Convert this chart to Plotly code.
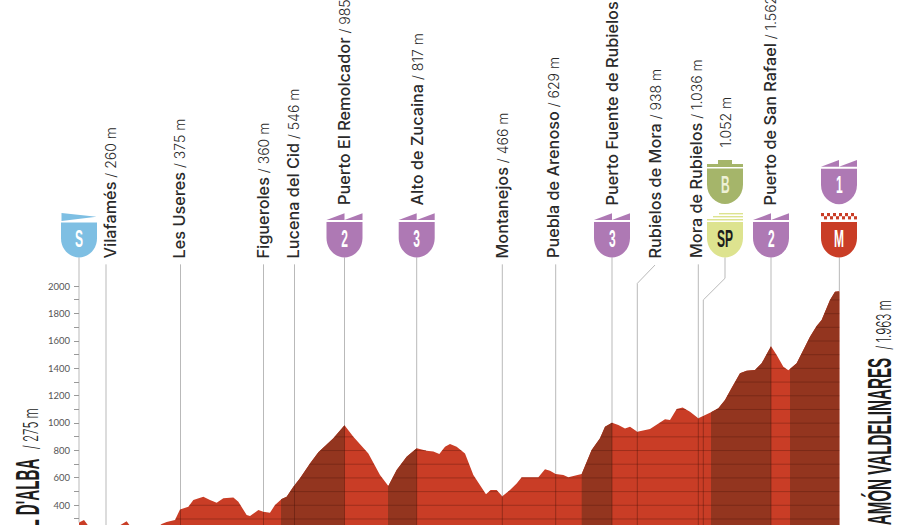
import numpy as np
import plotly.graph_objects as go

# ---------- data ----------
distance_km = [0, 0.53, 1.0, 1.87, 4.2, 6.87, 8.87, 9.53, 10.2, 12.87, 15.53, 16.53, 17.53, 19.2, 20.2, 21.87, 22.87,
               24.87, 26.2, 27.53, 28.87, 30.87, 31.87, 33.53, 34.2, 35.87, 36.87, 38.2, 39.2, 40.53, 41.53, 42.87,
               44.2, 46.2, 47.87, 49.53, 50.87, 53.1, 54.87, 57.87, 60.2, 61.87, 63.53, 65.53, 67.54, 69.53, 70.87,
               72.07, 73.2, 74.2, 75.53, 77.2, 78.87, 81.4, 82.33, 83.53, 84.66, 86.2, 87.53, 88.53, 91.87, 93.2,
               94.2, 95.34, 96.87, 97.87, 100.53, 102.53, 104.2, 105.2, 106.6, 107.87, 109.2, 110.2, 111.66, 114.2,
               115.87, 117.2, 118.2, 119.53, 120.73, 122.2, 123.86, 124.86, 126.4, 127.87, 129.2, 130.53, 132.2,
               133.53, 135.2, 136.53, 138.4, 139.53, 140.87, 141.87, 143.53, 144.87, 146.2, 147.53, 148.53, 150.2,
               151.2, 152.07]
elevation_m = [275, 288, 293, 250, 220, 225, 273, 283, 250, 200, 235, 263, 278, 292, 370, 390, 438,
               463, 438, 419, 451, 456, 426, 329, 322, 365, 353, 346, 402, 446, 463, 536,
               597, 706, 787, 840, 889, 985, 901, 779, 621, 541, 658, 755, 817, 799, 792,
               775, 828, 848, 828, 779, 621, 480, 512, 512, 466, 512, 560, 604, 604, 663,
               653, 629, 621, 604, 628, 804, 889, 974, 1003, 986, 960, 974, 938, 957,
               994, 1028, 1023, 1103, 1115, 1084, 1036, 1052, 1079, 1108, 1169, 1259, 1364,
               1383, 1388, 1437, 1562, 1498, 1412, 1386, 1437, 1534, 1632, 1710, 1753, 1900,
               1960, 1963]
climb_ranges_km = [(40.4, 53.1), (61.8, 67.54), (100.54, 106.6), (126.4, 138.4), (142.2, 152.07)]
y_tick_values = [400, 600, 800, 1000, 1200, 1400, 1600, 1800, 2000]
y_minor_values = [300, 500, 700, 900, 1100, 1300, 1500, 1700, 1900]

point_names = ["Vilafamés", "Les Useres", "Figueroles", "Lucena del Cid", "Puerto El Remolcador", "Alto de Zucaina",
               "Montanejos", "Puebla de Arenoso", "Puerto Fuente de Rubielos", "Rubielos de Mora",
               "Mora de Rubielos", "Puerto de San Rafael"]
point_heights = ["260 m", "375 m", "360 m", "546 m", "985 m", "817 m", "466 m", "629 m", "", "938 m",
                 "1.036 m", "1.562 m"]
point_km = [5.4, 20.3, 36.9, 43.1, 53.1, 67.54, 84.66, 95.34, 106.6, 111.66, 123.86, 138.4]
sprint_km = 124.86
start_km, finish_km = 0, 152.07
start_name, start_height = "VALL D'ALBA", "275 m"
finish_name, finish_height = "ARAMÓN VALDELINARES", "1.963 m"

# ---------- style ----------
W, H = 905, 525
XR = [-15.8, 165.2]
YR = [256, 4091]
LIGHT, DARK = "#C93D26", "#93351F"
GRID = "rgba(70,18,8,0.5)"
GREY = "#B9B9B9"
PURPLE, BLUE, YEL, GREEN = "#AE79B4", "#7EBFE3", "#DDE38F", "#A5B56A"
SANS = "Inter, Lato, sans-serif"
BOLD = "'Liberation Sans', sans-serif"

km = np.array(distance_km, float)
ele = np.array(elevation_m, float)
terrain = lambda x: float(np.interp(x, km, ele))

fig = go.Figure()
fig.add_trace(go.Scatter(x=km, y=ele, mode="lines", fill="tozeroy", fillcolor=LIGHT, line=dict(width=0), hoverinfo="skip"))
for a, b in climb_ranges_km:
    xs = np.array([a] + [k for k in distance_km if a < k < b] + [b])
    fig.add_trace(go.Scatter(x=xs, y=np.interp(xs, km, ele), mode="lines", fill="tozeroy", fillcolor=DARK,
                             line=dict(width=0), hoverinfo="skip"))

# horizontal grid inside the terrain
dense = np.linspace(0, finish_km, 6000)
dense_e = np.interp(dense, km, ele)
gx, gy = [], []
for lvl in range(300, 2000, 100):
    inside = dense_e >= lvl
    i = 0
    while i < len(dense):
        if inside[i]:
            j = i
            while j + 1 < len(dense) and inside[j + 1]:
                j += 1
            gx += [dense[i], dense[j], None]
            gy += [lvl, lvl, None]
            i = j + 1
        else:
            i += 1
fig.add_trace(go.Scatter(x=gx, y=gy, mode="lines", line=dict(color=GRID, width=0.65), hoverinfo="skip"))

# marker lines
TOP_PLAIN, TOP_BADGE = 2160, 2211
badge_kms = {0, 53.1, 67.54, 106.6, 138.4, 152.07}
for k in [start_km] + point_km + [finish_km, sprint_km]:
    t = terrain(k)
    if k == 111.66:
        xs, ys = [115.2, k, k], [2155, 2021, t]
    elif k == sprint_km:
        xs, ys = [129.2, 129.2, k, k], [TOP_BADGE, 2058, 1900, t]
    else:
        xs, ys = [k, k], [TOP_BADGE if k in badge_kms else TOP_PLAIN, t]
    fig.add_trace(go.Scatter(x=xs, y=ys, mode="lines", line=dict(color=GREY, width=1), hoverinfo="skip"))
    if k != finish_km and k != start_km:
        fig.add_trace(go.Scatter(x=[k, k], y=[t, 0], mode="lines", line=dict(color=GRID, width=0.8), hoverinfo="skip"))

# ---------- badges ----------
def px(x):
    return x / W
def py(y):
    return 1 - y / H

def path(points, close=True):
    s = "M " + " L ".join(f"{px(x):.5f},{py(y):.5f}" for x, y in points)
    return s + (" Z" if close else "")

def shield(cx, top, bottom, color):
    p0 = (cx - 18, top); p1 = (cx + 18, top); p2 = (cx + 18, top + 16)
    c = f"C {px(cx+18):.5f},{py(bottom-8):.5f} {px(cx+9):.5f},{py(bottom):.5f} {px(cx):.5f},{py(bottom):.5f} "
    d = f"C {px(cx-9):.5f},{py(bottom):.5f} {px(cx-18):.5f},{py(bottom-8):.5f} {px(cx-18):.5f},{py(top+16):.5f} Z"
    s = f"M {px(p0[0]):.5f},{py(p0[1]):.5f} L {px(p1[0]):.5f},{py(p1[1]):.5f} L {px(p2[0]):.5f},{py(p2[1]):.5f} " + c + d
    fig.add_shape(type="path", xref="paper", yref="paper", path=s, fillcolor=color, line_width=0, layer="above")

def poly(points, color):
    fig.add_shape(type="path", xref="paper", yref="paper", path=path(points), fillcolor=color, line_width=0, layer="above")

def letter(cx, cy, text, color="white", size=24, squeeze=0.5):
    fig.add_annotation(xref="paper", yref="paper", x=px(cx), y=py(cy), text=f"<b>{text}</b>", showarrow=False,
                       name=f"sq:{squeeze}:0", font=dict(family=BOLD, size=size, color=color),
                       xanchor="center", yanchor="middle")

def crown(cx, dy, color):
    t = 213.3 + dy
    poly([(cx - 18, t + 6.7), (cx, t), (cx, t + 6.7)], color)
    poly([(cx, t + 6.7), (cx + 18, t), (cx + 18, t + 6.7)], color)

def mountain(cx, label, dy=0):
    crown(cx, dy, PURPLE)
    shield(cx, 222 + dy, 257.5 + dy, PURPLE)
    letter(cx, 238 + dy, label)

CX = dict(S=79, R=344.5, Z=416.7, F=612, SP=725, SR=771, M=839)
# start
poly([(CX["S"] - 17.5, 213), (CX["S"] + 17.5, 216.7), (CX["S"] - 17.5, 221)], BLUE)
shield(CX["S"], 222.5, 257.5, BLUE)
letter(CX["S"], 238, "S")
mountain(CX["R"], "2")
mountain(CX["Z"], "3")
mountain(CX["F"], "3")
mountain(CX["SR"], "2")
mountain(CX["M"], "1", dy=-53.3)
# sprint
c = CX["SP"]
poly([(c - 6, 213), (c + 18, 213), (c + 18, 214.4), (c - 6, 214.4)], YEL)
poly([(c - 12, 216), (c + 18, 216), (c + 18, 217.4), (c - 12, 217.4)], YEL)
poly([(c - 18, 219), (c + 18, 219), (c + 18, 220.4), (c - 18, 220.4)], YEL)
shield(c, 222, 257.5, YEL)
letter(c, 238, "SP", color="#1c1c1c")
# bonus
poly([(c - 7, 160), (c + 7, 160), (c + 7, 164), (c - 7, 164)], GREEN)
poly([(c - 18, 164), (c + 18, 164), (c + 18, 167), (c - 18, 167)], GREEN)
shield(c, 168.5, 204, GREEN)
letter(c, 184.5, "B", color="#EEF1D6")
# finish
c = CX["M"]
for col in range(12):
    for row in range(2):
        if (col + row) % 2 == 0:
            x0 = c - 18 + col * 3
            y0 = 213 + row * 3.2
            poly([(x0, y0), (x0 + 3, y0), (x0 + 3, y0 + 3.2), (x0, y0 + 3.2)], LIGHT)
shield(c, 222, 257.5, LIGHT)
letter(c, 238, "M")

# ---------- labels ----------
label_px = [109, 178, 262, 292, 344.5, 417, 501, 553, 612, 654, 696, 770]
label_bottom = [260.5, 260.5, 260.5, 260.5, 207.5, 207.5, 260.5, 260.5, 207.5, 260.5, 260.5, 207.5]
for name, h, x, b in zip(point_names, point_heights, label_px, label_bottom):
    tail = f" / {h}" if h else ""
    fig.add_annotation(xref="paper", yref="paper", x=px(x), y=py(b), textangle=-90, showarrow=False,
                       xanchor="center", yanchor="bottom",
                       text=f"<span style='font-weight:500;font-size:16.3px'>{name}</span>{tail}",
                       font=dict(family=SANS, size=14, color="#2a2a2a", weight=300))
fig.add_annotation(xref="paper", yref="paper", x=px(725), y=py(150), textangle=-90, showarrow=False,
                   xanchor="center", yanchor="bottom", text="1.052 m",
                   font=dict(family=SANS, size=14, color="#2a2a2a", weight=300))

# condensed titles: squeezed along the reading direction, centred at the given point
def title(x, y, text, family, size, squeeze, weight=None):
    fig.add_annotation(xref="paper", yref="paper", x=px(x), y=py(y), textangle=-90, showarrow=False,
                       xanchor="center", yanchor="middle", name=f"sq:{squeeze}:90", text=text,
                       font=dict(family=family, size=size, color="#1c1c1c", weight=weight))

title(27, 508, f"<b>{start_name}</b>", BOLD, 33, 0.46)
title(31, 428.5, f"/ {start_height}", SANS, 20, 0.58, 300)
title(880, 452.5, f"<b>{finish_name}</b>", BOLD, 33, 0.46)
title(884, 325.5, f"/ {finish_height}", SANS, 20, 0.58, 300)

fig.update_layout(
    width=W, height=H, margin=dict(l=0, r=0, t=0, b=0), showlegend=False,
    paper_bgcolor="white", plot_bgcolor="white",
    xaxis=dict(visible=False, range=XR, domain=[0, 1], fixedrange=True),
    yaxis=dict(range=YR, domain=[0, 1], anchor="free", position=79 / W, showgrid=False, zeroline=False, showline=False,
               tickmode="array", tickvals=y_tick_values, ticks="outside", ticklen=5, tickcolor="#999", tickwidth=1,
               tickfont=dict(family="Lato, sans-serif", size=9.5, color="#555"),
               tickformat="d", ticklabelstandoff=2, fixedrange=True,
               minor=dict(tickvals=y_minor_values, ticks="outside", ticklen=5, tickcolor="#999", tickwidth=1, showgrid=False)),
)

post = r"""
document.body.style.margin = '0';
document.body.style.overflow = 'hidden';
var gd = document.getElementById('{plot_id}');
gd.querySelectorAll('.annotation').forEach(function (g) {
  var a = gd.layout.annotations[+g.getAttribute('data-index')];
  if (!a || !a.name || a.name.indexOf('sq:') !== 0) return;
  var s = a.name.split(':')[1];
  var t = g.querySelector('.annotation-text-g');
  var m = /rotate\(([-\d.]+),\s*([-\d.]+),\s*([-\d.]+)\)/.exec(t.getAttribute('transform') || '');
  var bb = t.getBBox();
  var cx = m ? +m[2] : bb.x + bb.width / 2, cy = m ? +m[3] : bb.y + bb.height / 2;
  var tr = (t.getAttribute('transform') || '') + ' translate(' + cx + ',' + cy + ') scale(' + s + ',1) translate(' + (-cx) + ',' + (-cy) + ')';
  t.setAttribute('transform', tr);
});
"""
fig.write_html("out.html", post_script=post, config=dict(displayModeBar=False))
